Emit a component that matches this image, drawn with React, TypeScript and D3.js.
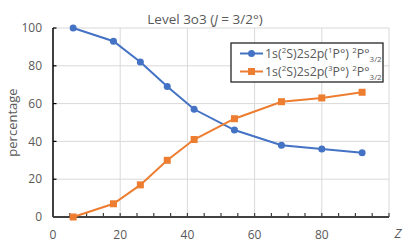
import React from 'react';
import * as d3 from 'd3';

const zValues = [6, 18, 26, 34, 42, 54, 68, 80, 92];
const singletShare = [100, 93, 82, 69, 57, 46, 38, 36, 34];
const tripletShare = [0, 7, 17, 30, 41, 52, 61, 63, 66];
const xTicks = [0, 20, 40, 60, 80, 100];
const xTickLabels = [0, 20, 40, 60, 80];
const xMinorTicks = d3.range(0, 101, 5);
const yTicks = [0, 20, 40, 60, 80, 100];

const W = 407;
const H = 244;
const margin = { top: 28, right: 18, bottom: 27, left: 53 };

const BLUE = '#4472C4';
const ORANGE = '#ED7D31';
const TEXT = '#595959';
const FONT = '"Open Sans", sans-serif';

const LegendLabel: React.FC<{ mult: string }> = ({ mult }) => (
  <>
    <tspan>1s(</tspan>
    <tspan dy={-4.5} fontSize={8}>2</tspan>
    <tspan dy={4.5}>S)2s2p(</tspan>
    <tspan dy={-4.5} fontSize={8}>{mult}</tspan>
    <tspan dy={4.5}>P°) </tspan>
    <tspan dy={-4.5} fontSize={8}>2</tspan>
    <tspan dy={4.5}>P°</tspan>
    <tspan dy={4.5} fontSize={8}>3/2</tspan>
  </>
);

const App: React.FC = () => {
  const x = d3.scaleLinear().domain([0, 100]).range([margin.left, W - margin.right]);
  const y = d3.scaleLinear().domain([0, 100]).range([H - margin.bottom, margin.top]);

  const line = d3.line<number>()
    .x((_, i) => x(zValues[i]))
    .y(d => y(d));

  const y0 = y(0);

  return (
    <svg width={W} height={H} style={{ position: 'absolute', left: 0, top: 0, background: '#fff' }}
      fontFamily={FONT}>
      {/* grid */}
      {yTicks.filter(t => t > 0).map(t => (
        <line key={'gy' + t} x1={x(0)} x2={x(100)} y1={y(t)} y2={y(t)} stroke="#d9d9d9" strokeWidth={1} />
      ))}
      {xTicks.filter(t => t > 0).map(t => (
        <line key={'gx' + t} x1={x(t)} x2={x(t)} y1={y(0)} y2={y(100)} stroke="#d9d9d9" strokeWidth={1} />
      ))}

      {/* axes */}
      <line x1={x(0)} x2={x(0)} y1={y(0)} y2={y(100)} stroke="#000" strokeWidth={1.5} />
      {yTicks.map(t => (
        <line key={'ty' + t} x1={x(0)} x2={x(0) + 3.5} y1={y(t)} y2={y(t)} stroke="#000" strokeWidth={1.2} />
      ))}
      <line x1={x(0)} x2={x(100)} y1={y0} y2={y0} stroke="#404040" strokeWidth={2} />
      {xMinorTicks.map(t => (
        <line key={'tx' + t} x1={x(t)} x2={x(t)} y1={y0} y2={y0 - 4} stroke="#404040" strokeWidth={1.2} />
      ))}

      {/* tick labels */}
      {yTicks.map(t => (
        <text key={'ly' + t} x={x(0) - 11} y={y(t)} dy="0.35em" textAnchor="end" fontSize={12} fill={TEXT}>{t}</text>
      ))}
      {xTickLabels.map(t => (
        <text key={'lx' + t} x={x(t)} y={y0 + 18} dy="0.35em" textAnchor="middle" fontSize={12} fill={TEXT}>{t}</text>
      ))}

      {/* axis titles */}
      <text x={398} y={233} dy="0.35em" textAnchor="middle" fontSize={13} fontStyle="italic" fill={TEXT}>Z</text>
      <text transform={`translate(12.5,${(y(0) + y(100)) / 2}) rotate(-90)`} dy="0.35em" textAnchor="middle" fontSize={13} fill={TEXT}>percentage</text>
      <text x={205} y={19} dy="0.35em" textAnchor="middle" fontSize={13.5} fill={TEXT}>
        Level 3o3 (<tspan fontStyle="italic">J</tspan> = 3/2°)
      </text>

      {/* series */}
      <path d={line(singletShare) || ''} fill="none" stroke={BLUE} strokeWidth={2} />
      {singletShare.map((v, i) => (
        <circle key={'b' + i} cx={x(zValues[i])} cy={y(v)} r={3.5} fill={BLUE} />
      ))}
      <path d={line(tripletShare) || ''} fill="none" stroke={ORANGE} strokeWidth={2} />
      {tripletShare.map((v, i) => (
        <rect key={'o' + i} x={x(zValues[i]) - 3.5} y={y(v) - 3.5} width={7} height={7} fill={ORANGE} />
      ))}

      {/* legend */}
      <rect x={231} y={43} width={152} height={39} fill="#fff" stroke="#262626" strokeWidth={1.3} />
      <line x1={240} x2={263} y1={53.5} y2={53.5} stroke={BLUE} strokeWidth={2} />
      <circle cx={251.5} cy={53.5} r={3.5} fill={BLUE} />
      <text x={265} y={53.5} dy="0.35em" fontSize={12.4} fill={TEXT}><LegendLabel mult="1" /></text>
      <line x1={240} x2={263} y1={71.5} y2={71.5} stroke={ORANGE} strokeWidth={2} />
      <rect x={248} y={68} width={7} height={7} fill={ORANGE} />
      <text x={265} y={71.5} dy="0.35em" fontSize={12.4} fill={TEXT}><LegendLabel mult="3" /></text>
    </svg>
  );
};

export default App;
